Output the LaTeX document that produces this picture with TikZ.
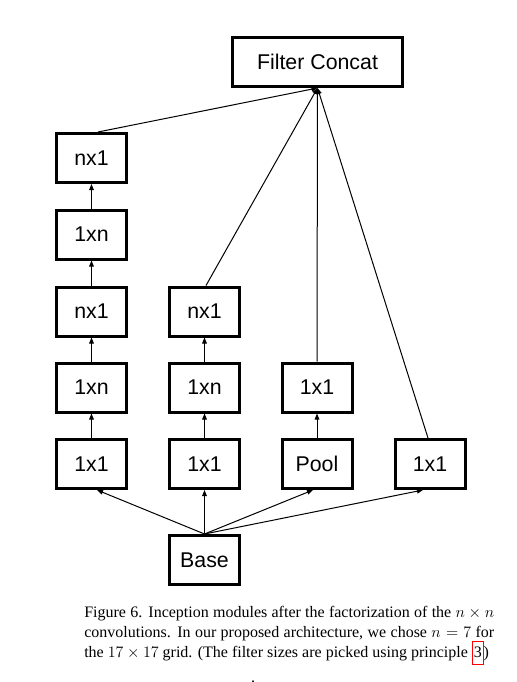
\documentclass[tikz,border=0pt]{standalone}
\usepackage{fontspec}
\setmainfont{Liberation Serif}
\newfontfamily\arialfont{Liberation Sans}
\usetikzlibrary{calc,arrows.meta}
\begin{document}
\begin{tikzpicture}[x=0.75pt,y=-0.75pt,
  blk/.style={draw,line width=2.25pt,minimum width=52.5pt,minimum height=36.75pt,inner sep=0pt,
    font=\arialfont\fontsize{16}{18}\selectfont},
  wide/.style={blk,minimum width=127.5pt},
  con/.style={line width=0.75pt,-{Triangle[length=4.5pt,width=3.5pt]}}]
\useasboundingbox (0,0) rectangle (517,682);
\node[wide] (concat) at (317.5,62) {Filter Concat};
\coordinate (cc) at (concat.south);
% column 1
\node[blk] (a1) at (91.5,464) {1x1};
\node[blk] (a2) at (91.5,387.5) {1xn};
\node[blk] (a3) at (91.5,311.5) {nx1};
\node[blk] (a4) at (91.5,234.5) {1xn};
\node[blk] (a5) at (91.5,158) {nx1};
% column 2
\node[blk] (b1) at (204.5,464) {1x1};
\node[blk] (b2) at (204.5,387.5) {1xn};
\node[blk] (b3) at (204.5,311.5) {nx1};
% column 3
\node[blk] (c1) at (317,464) {Pool};
\node[blk] (c2) at (317,387.5) {1x1};
% column 4
\node[blk] (d1) at (430,464) {1x1};
% base
\node[blk] (base) at (204.5,560) {Base};
% vertical chains
\draw[con] (a1) -- (a2);
\draw[con] (a2) -- (a3);
\draw[con] (a3) -- (a4);
\draw[con] (a4) -- (a5);
\draw[con] (b1) -- (b2);
\draw[con] (b2) -- (b3);
\draw[con] (c1) -- (c2);
% to concat
\draw[con] ($(a5.north)+(6.5*0.75pt,0)$) -- (cc);
\draw[con] ($(b3.north)+(1.5*0.75pt,0)$) -- (cc);
\draw[con] (c2.north) -- (cc);
\draw[con] ($(d1.north)+(-2*0.75pt,0)$) -- (cc);
% from base
\draw[con] (base.north) -- ($(a1.south)+(5.5*0.75pt,0)$);
\draw[con] (base.north) -- (b1.south);
\draw[con] (base.north) -- ($(c1.south)+(-4*0.75pt,0)$);
\draw[con] (base.north) -- ($(d1.south)+(-7*0.75pt,0)$);
% caption
\node[anchor=base west,inner sep=0pt,text width=307.5pt,align=justify,
  font=\fontsize{12}{15}\selectfont] (cap) at (84,617)
  {Figure 6. Inception modules after the factorization of the $n\times n$ convolutions.  In our proposed architecture, we chose $n = 7$ for the $17\times 17$ grid. (The filter sizes are picked using principle {\setlength{\fboxsep}{0.8pt}\setlength{\fboxrule}{0.6pt}\fcolorbox{red}{white}{\strut 3}})};
\node[anchor=base,inner sep=0pt,font=\fontsize{12}{15}\selectfont] (dot) at (253,682) {.};
\end{tikzpicture}
\end{document}
